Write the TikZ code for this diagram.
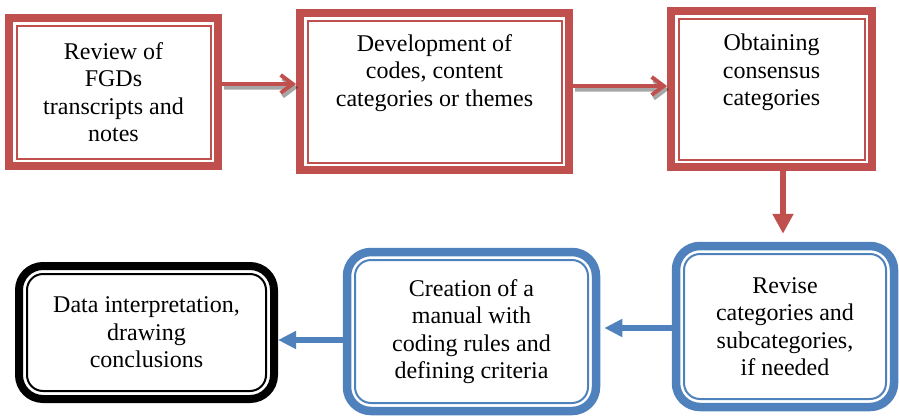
\documentclass[tikz,border=0pt]{standalone}
\usepackage{fontspec}
\setmainfont{Liberation Serif}
\usetikzlibrary{arrows.meta}
\definecolor{boxred}{HTML}{C0504D}
\definecolor{boxblue}{HTML}{4F81BD}

\tikzset{
  txt/.style={font=\fontsize{24}{27.5}\selectfont, align=center, text=black},
  % square box: thick outer frame plus a thin inner frame
  framebox/.style={draw=#1, line width=8pt, inner sep=0pt, txt,
    path picture={\draw[#1, line width=2pt, sharp corners]
      ([shift={(7.5pt,7.5pt)}]path picture bounding box.south west) rectangle
      ([shift={(-7.5pt,-7.5pt)}]path picture bounding box.north east);}},
  % rounded box: thick outer frame plus a thin inner frame
  roundbox/.style={draw=#1, line width=8.5pt, rounded corners=24pt, inner sep=0pt, txt,
    path picture={\draw[#1, line width=2pt, rounded corners=16pt]
      ([shift={(8pt,8pt)}]path picture bounding box.south west) rectangle
      ([shift={(-8pt,-8pt)}]path picture bounding box.north east);}},
  toptext/.style={txt, anchor=north, inner sep=0pt, yshift=#1},
  redarrow/.style={draw=boxred, line width=4pt, -{Straight Barb[length=12pt, width=18pt]}},
  shadowarrow/.style={draw=black, line width=4pt, -{Straight Barb[length=12pt, width=18pt]},
    transform canvas={shift={(2pt,-3.5pt)}}},
  bluearrow/.style={draw=boxblue, fill=boxblue, line width=6pt, -{Triangle[length=18pt, width=17pt]}},
}

\begin{document}
\begin{tikzpicture}[x=1pt, y=-1pt]
\useasboundingbox (0,0) rectangle (899,415);

% top row
\node[framebox=boxred, minimum width=209pt, minimum height=148pt] (b1) at (113.5,92)
  {Review of\\FGDs\\transcripts and\\notes};
\node[framebox=boxred, minimum width=269pt, minimum height=157pt,
  label={[toptext=-25pt]north:Development of\\codes, content\\categories or themes}] (b2) at (434.5,91.5) {};
\node[framebox=boxred, minimum width=201pt, minimum height=156pt,
  label={[toptext=-27pt]north:Obtaining\\consensus\\categories}] (b3) at (771.5,89) {};

% bottom row
\node[roundbox=boxblue, minimum width=218pt, minimum height=161pt] (b4) at (785,326.5)
  {Revise\\categories and\\subcategories,\\if needed};
\node[roundbox=boxblue, minimum width=249pt, minimum height=159pt] (b5) at (471.5,331.5)
  {Creation of a\\manual with\\coding rules and\\defining criteria};
\node[roundbox=black, line width=8pt, minimum width=255pt, minimum height=133pt] (b6) at (146.5,332.5)
  {Data interpretation,\\drawing\\conclusions};

% shadows of the red connectors
\begin{scope}[transparency group, opacity=.35]
  \draw[shadowarrow] ([yshift=8pt]b1.east) -- ([yshift=8pt]b1.east -| b2.west);
  \draw[shadowarrow] ([yshift=5.5pt]b2.east) -- ([yshift=5.5pt]b2.east -| b3.west);
\end{scope}

% connectors
\draw[redarrow] ([yshift=8pt]b1.east) -- ([yshift=8pt]b1.east -| b2.west);
\draw[redarrow] ([yshift=5.5pt]b2.east) -- ([yshift=5.5pt]b2.east -| b3.west);
\draw[draw=boxred, fill=boxred, line width=5.5pt, -{Triangle[length=20pt, width=20pt]}, shorten >=8pt]
  ([xshift=11.5pt]b3.south) -- ([xshift=11.5pt]b3.south |- b4.north);
\draw[bluearrow, shorten >=4pt] ([yshift=-1.5pt]b4.west) -- ([yshift=-1.5pt]b4.west -| b5.east);
\draw[bluearrow] ([yshift=-8.5pt]b5.west) -- ([yshift=-8.5pt]b5.west -| b6.east);
\end{tikzpicture}
\end{document}
